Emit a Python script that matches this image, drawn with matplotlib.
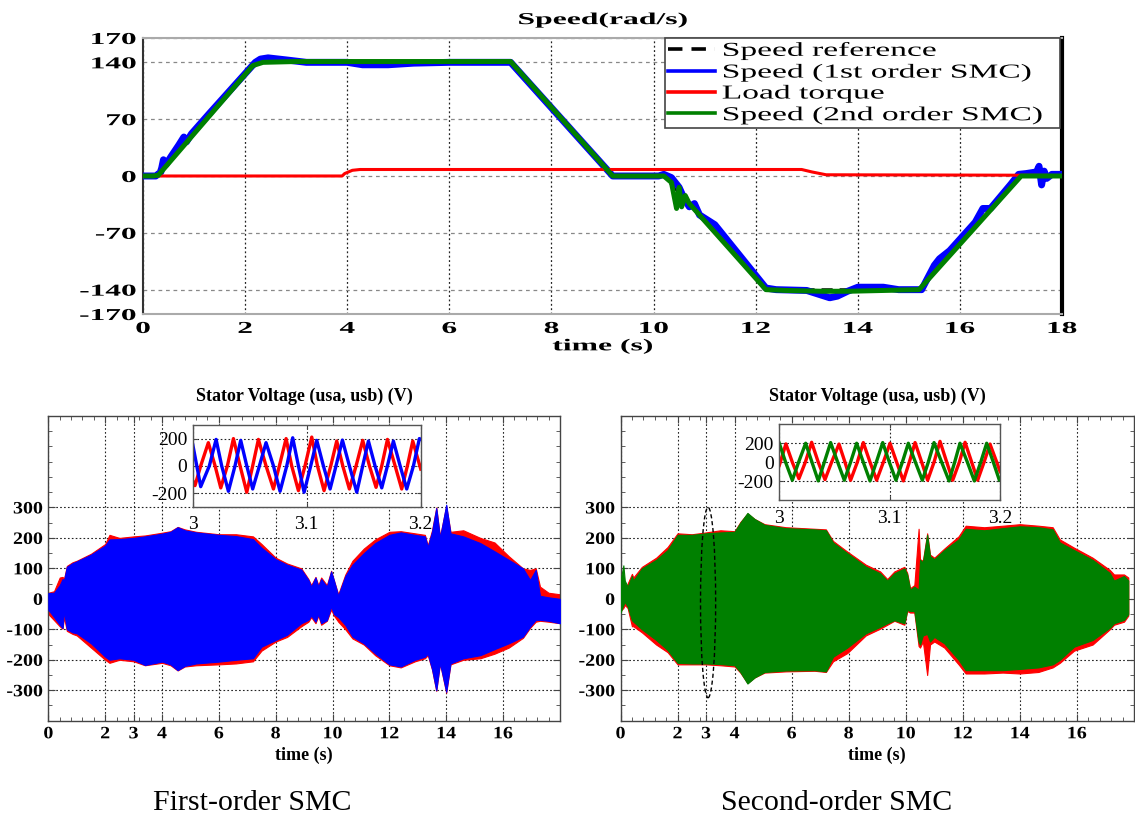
import numpy as np
import matplotlib
matplotlib.use('Agg')
import matplotlib.pyplot as plt
from matplotlib.patheffects import AbstractPathEffect
from matplotlib.transforms import Affine2D
from matplotlib.patches import Ellipse
from matplotlib.ticker import MultipleLocator

plt.rcParams['axes.unicode_minus'] = False
SERIF = ['Liberation Serif', 'DejaVu Serif']

# ---------------- top chart data: speed (rad/s) ----------------
ref_t = [0, 0.2, 2.2, 7.2, 9.2, 10.2, 12.2, 15.2, 17.2, 18]
ref_v = [0, 0, 140, 140, 0, 0, -140, -140, 0, 0]

smc1_t = [0, 0.25, 0.35, 0.4, 0.45, 0.55, 0.7, 0.8, 0.85, 0.95, 1.3, 1.8, 2.2, 2.3, 2.45,
          2.8, 3.2, 4.0, 4.3, 4.8, 5.3, 6.0, 7.2, 9.2, 10.1, 10.2, 10.35, 10.5, 10.6, 10.7,
          10.8, 10.9, 11.0, 11.2, 12.2, 12.4, 13.0, 13.2, 13.45, 13.6, 13.8, 14.0, 14.5,
          14.8, 15.25, 15.5, 15.6, 15.8, 16.3, 16.45, 16.6, 17.0, 17.15, 17.3, 17.5, 17.55,
          17.6, 17.65, 17.7, 17.8, 18]
smc1_v = [0, 0, 5, 20, 14, 24, 38, 48, 42, 52, 77, 112, 140, 144, 145.5,
          143, 140, 140, 137, 137, 139, 140, 140, 0, 0, 2, -2, -14, -28, -38,
          -34, -48, -52, -60, -138, -140, -141, -145, -150, -148, -142, -137, -137,
          -140, -140, -110, -102, -92, -57, -40, -40, -10, 2, 3, 5, 12,
          -11, 6, -3, 2, 2]

torque_t = [0, 3.9, 3.95, 4.1, 4.25, 12.9, 13.1, 13.38, 17.0, 18]
torque_v = [0, 0, 3, 7, 8, 8, 5, 1.5, 1, 0.5]

smc2_t = [0, 0.2, 0.3, 2.15, 2.35, 3.0, 7.2, 9.2, 10.2, 10.35, 10.45, 10.5, 10.55,
          10.62, 10.7, 12.2, 12.6, 13.3, 13.8, 15.2, 17.2, 18]
smc2_v = [0, 0, 1, 136, 140, 141, 141, 0, 0, -8, -40, -14, -38,
          -24, -34, -140, -141, -142, -142, -140, 0, 0]

speed_labels = ['Speed reference', 'Speed (1st order SMC)', 'Load torque',
                'Speed (2nd order SMC)']

# ---------------- bottom-left: 1st order SMC stator voltage envelopes ----------------
tL = [0, 0.2, 0.4, 0.5, 0.55, 0.65, 0.85, 1.0, 1.5, 2.0, 2.15, 2.5, 3.0, 3.4, 4.0, 4.3,
      4.55, 4.8, 5.2, 6.0, 6.6, 7.2, 7.5, 8.0, 8.4, 8.9, 9.15, 9.25, 9.4, 9.5, 9.6, 9.8,
      9.95, 10.05, 10.2, 10.45, 10.7, 11.1, 11.5, 12.0, 12.4, 12.9, 13.25, 13.35, 13.5,
      13.65, 13.78, 14.0, 14.15, 14.6, 15.2, 15.7, 16.2, 16.7, 16.95, 17.15, 17.3, 17.6, 18.0]
blue_up = [19, 20, 45, 65, 60, 105, 117, 123, 145, 175, 195, 196, 200, 205, 214, 220,
           235, 225, 218, 210, 206, 196, 168, 130, 112, 96, 62, 40, 70, 40, 65, 40,
           90, 60, 10, 75, 112, 150, 183, 210, 218, 210, 205, 170, 220,
           298, 200, 309, 215, 205, 183, 156, 128, 100, 62, 95, 10, 5, 0]
blue_lo = [-36, -60, -85, -96, -40, -100, -110, -113, -146, -190, -200, -195, -200, -217, -206, -215,
           -234, -220, -212, -206, -200, -195, -157, -135, -118, -80, -69, -55, -75, -50, -80, -70,
           -25, -50, -60, -86, -124, -146, -179, -215, -222, -200, -190, -180, -230,
           -300, -210, -305, -212, -195, -185, -165, -146, -124, -91, -69, -69, -72, -80]
red_up = [20, 25, 70, 72, 65, 108, 120, 125, 148, 180, 210, 200, 205, 208, 217, 222,
          236, 228, 220, 212, 212, 205, 180, 135, 116, 100, 65, 45, 72, 45, 70, 45,
          92, 60, 15, 80, 125, 165, 195, 220, 222, 215, 210, 175, 225,
          300, 205, 305, 220, 225, 200, 185, 140, 100, 95, 100, 40, 20, 15]
red_lo = [-50, -70, -90, -98, -60, -105, -115, -120, -160, -200, -210, -200, -205, -218, -210, -218,
          -235, -222, -218, -215, -212, -205, -170, -140, -125, -90, -75, -60, -80, -55, -85, -72,
          -35, -55, -75, -100, -130, -150, -185, -218, -225, -205, -195, -185, -232,
          -302, -212, -308, -215, -200, -195, -180, -160, -128, -95, -75, -72, -75, -80]

# ---------------- bottom-right: 2nd order SMC stator voltage envelopes ----------------
tR = [0, 0.1, 0.15, 0.25, 0.4, 0.45, 0.75, 1.25, 1.65, 2.0, 2.5, 3.0, 3.5, 4.0, 4.2, 4.45,
      4.7, 5.05, 5.8, 6.8, 7.2, 7.45, 7.95, 8.6, 9.1, 9.35, 9.6, 9.95, 10.05, 10.15, 10.3,
      10.45, 10.5, 10.6, 10.75, 10.85, 11.0, 11.35, 11.85, 12.1, 12.75, 13.4, 14.0, 14.65,
      15.15, 15.4, 15.9, 16.55, 17.15, 17.3, 17.65, 17.8]
green_up = [60, 110, 60, 40, 75, 60, 100, 128, 160, 210, 210, 215, 218, 220, 250, 282,
            262, 243, 232, 228, 225, 185, 150, 106, 84, 60, 84, 100, 80, 30, 40,
            30, 128, 120, 210, 140, 130, 160, 195, 230, 225, 232, 238, 235,
            228, 185, 160, 128, 85, 60, 75, 60]
green_lo = [-45, -20, -10, -25, -70, -75, -100, -135, -168, -210, -212, -212, -214, -218, -240, -278,
            -258, -240, -235, -234, -238, -190, -160, -113, -92, -80, -70, -80, -36, -40, -40,
            -140, -150, -120, -115, -140, -125, -146, -200, -234, -234, -234, -230, -225,
            -215, -200, -157, -135, -95, -80, -69, -50]
red2_up = [10, 20, 30, 50, 82, 70, 105, 135, 170, 215, 212, 218, 225, 222, 252, 280,
           262, 245, 235, 230, 228, 190, 155, 112, 90, 65, 90, 105, 85, 35, 45,
           230, 130, 125, 215, 145, 135, 165, 205, 240, 235, 240, 245, 240,
           235, 195, 168, 135, 95, 80, 80, 70]
red2_lo = [-40, -30, -20, -30, -90, -90, -110, -150, -175, -215, -215, -215, -218, -222, -242, -276,
           -258, -242, -238, -236, -240, -205, -178, -120, -98, -85, -72, -85, -40, -45, -45,
           -155, -160, -140, -250, -150, -140, -160, -215, -245, -245, -242, -245, -240,
           -225, -210, -170, -150, -100, -85, -75, -55]

# ---------------- insets: zoom 3.0 s - 3.2 s ----------------
insL_red_t = [3.0000, 3.0020, 3.0070, 3.0137, 3.0196, 3.0246, 3.0304, 3.0357, 3.0415, 3.0474,
              3.0526, 3.0576, 3.0643, 3.0708, 3.0760, 3.0819, 3.0868, 3.0927, 3.0985, 3.1044,
              3.1094, 3.1152, 3.1211, 3.1263, 3.1316, 3.1374, 3.1433, 3.1491, 3.1550, 3.1608,
              3.1658, 3.1708, 3.1775, 3.1833, 3.1883, 3.1930, 3.2000]
insL_red_v = [-109, -145, 0, 170, 0, -162, 0, 200, 0, -194,
              0, 194, 0, -170, 0, 200, 0, -182, 0, 211,
              0, -182, 0, 182, 0, -170, 0, 187, 0, -158,
              0, 194, 0, -170, 0, 182, -24]
insL_blue_t = [3.0000, 3.0070, 3.0146, 3.0205, 3.0254, 3.0313, 3.0371, 3.0421, 3.0474, 3.0526,
               3.0585, 3.0643, 3.0708, 3.0766, 3.0825, 3.0877, 3.0927, 3.0977, 3.1035, 3.1088,
               3.1146, 3.1205, 3.1257, 3.1313, 3.1374, 3.1439, 3.1491, 3.1541, 3.1599, 3.1658,
               3.1708, 3.1760, 3.1819, 3.1877, 3.1936, 3.1988, 3.2000]
insL_blue_v = [158, -153, 0, 194, 0, -187, 0, 187, 0, -170,
               0, 170, 0, -187, 0, 206, 0, -194, 0, 187,
               0, -170, 0, 189, 0, -194, 0, 182, 0, -162,
               0, 182, 0, -170, 0, 200, 195]

insR_red_t = [3.0000, 3.0060, 3.0118, 3.0178, 3.0236, 3.0293, 3.0353, 3.0414, 3.0474, 3.0541,
              3.0595, 3.0646, 3.0707, 3.0761, 3.0822, 3.0882, 3.0943, 3.1003, 3.1063, 3.1124,
              3.1178, 3.1230, 3.1290, 3.1344, 3.1402, 3.1456, 3.1517, 3.1571, 3.1631, 3.1683,
              3.1743, 3.1797, 3.1855, 3.1909, 3.1970, 3.2000]
insR_red_v = [-35, 193, 0, -174, 0, 210, 0, -184, 0, 191,
              0, -191, 0, 207, 0, -191, 0, 200, 0, -198,
              0, 207, 0, -191, 0, 220, 0, -191, 0, 210,
              0, -191, 0, 191, 0, -100]
insR_green_t = [3.0000, 3.0057, 3.0118, 3.0175, 3.0239, 3.0296, 3.0353, 3.0408, 3.0465, 3.0529,
                3.0589, 3.0646, 3.0701, 3.0761, 3.0822, 3.0879, 3.0937, 3.0997, 3.1057, 3.1115,
                3.1169, 3.1233, 3.1296, 3.1350, 3.1402, 3.1471, 3.1538, 3.1589, 3.1637, 3.1704,
                3.1767, 3.1825, 3.1879, 3.1939, 3.1994, 3.2000]
insR_green_v = [200, 0, -191, 0, 200, 0, -198, 0, 207, 0,
                -191, 0, 200, 0, -198, 0, 207, 0, -191, 0,
                200, 0, -191, 0, 207, 0, -198, 0, 200, 0,
                -198, 0, 200, 0, -191, -185]

main_xticks = [0, 2, 3, 4, 6, 8, 10, 12, 14, 16]
main_yticks = [-300, -200, -100, 0, 100, 200, 300]
inset_xticks = [3.0, 3.1, 3.2]
inset_xlabels = ['3', '3.1', '3.2']
inset_yticks = [-200, 0, 200]
panel_title = 'Stator Voltage (usa, usb) (V)'
captions = ['First-order SMC', 'Second-order SMC']

RED = '#ff0000'
BLUE = '#0000ff'
GREEN = '#008000'


class HStretch(AbstractPathEffect):
    """Horizontally widen glyphs (the reference uses a wide, stretched font)."""
    def __init__(self, sx, anchor='center'):
        super().__init__((0, 0))
        self.sx = sx
        self.anchor = anchor

    def draw_path(self, renderer, gc, tpath, affine, rgbFace=None):
        ext = tpath.get_extents()
        if self.anchor == 'left':
            cx = 0.0
        elif self.anchor == 'right':
            cx = ext.x1
        else:
            cx = 0.5 * (ext.x0 + ext.x1)
        pre = Affine2D().translate(-cx, 0).scale(self.sx, 1.0).translate(cx, 0)
        renderer.draw_path(gc, tpath, pre + affine, rgbFace)


fig = plt.figure(figsize=(11.35, 8.22), dpi=100)

# ================= top chart =================
ax = fig.add_axes([0.1260, 0.6180, 0.8097, 0.3358])
ax.plot(ref_t, ref_v, color='black', ls=(0, (4, 2.5)), lw=2.0, label=speed_labels[0], zorder=3)
ax.plot(smc1_t, smc1_v, color=BLUE, lw=5.0, label=speed_labels[1], zorder=4)
ax.plot(torque_t, torque_v, color=RED, lw=2.2, label=speed_labels[2], zorder=5)
ax.plot(smc2_t, smc2_v, color=GREEN, lw=3.6, label=speed_labels[3], zorder=6)
ax.set_xlim(0, 18)
ax.set_ylim(-170, 170)
ax.set_xticks(list(range(0, 19, 2)))
ax.set_yticks([-170, -140, -70, 0, 70, 140, 170])
ax.grid(axis='y', ls=(0, (3, 3)), color='#888888', lw=0.9)
ax.grid(axis='x', ls=(0, (1.5, 2)), color='#222222', lw=0.9)
ax.tick_params(length=0, labelsize=12, pad=5)
for lbl in ax.get_xticklabels():
    lbl.set_fontfamily(SERIF)
    lbl.set_fontweight('bold')
    lbl.set_path_effects([HStretch(1.88, 'center')])
for lbl in ax.get_yticklabels():
    lbl.set_fontfamily(SERIF)
    lbl.set_fontweight('bold')
    lbl.set_path_effects([HStretch(1.88, 'right')])
for s in ['top', 'bottom']:
    ax.spines[s].set_color('#aaaaaa')
    ax.spines[s].set_linewidth(1.5)
ax.spines['left'].set_color('#333333')
ax.spines['left'].set_linewidth(1.5)
ax.spines['right'].set_color('black')
ax.spines['right'].set_linewidth(3)
ax.set_title('Speed(rad/s)', fontfamily=SERIF, fontweight='bold', fontsize=12, pad=10,
             path_effects=[HStretch(1.9, 'center')])
ax.set_xlabel('time (s)', fontfamily=SERIF, fontweight='bold', fontsize=12, labelpad=1,
              path_effects=[HStretch(1.9, 'center')])
leg = ax.legend(loc='upper left', bbox_to_anchor=(0.5675, 0.0, 0.4305, 1.0), mode='expand',
                prop={'family': SERIF, 'size': 14.2}, frameon=True, fancybox=False,
                edgecolor='#444444', framealpha=1, borderaxespad=0, labelspacing=0.1,
                handlelength=2.4, handletextpad=0.35, borderpad=0.15)
leg.get_frame().set_linewidth(1.2)
for h in leg.get_lines():
    h.set_linewidth(2.6)
for t in leg.get_texts():
    t.set_path_effects([HStretch(1.7, 'left')])
leg.set_zorder(10)


def style_main(a):
    a.set_xlim(0, 18)
    a.set_ylim(-400, 600)
    a.set_xticks(main_xticks)
    a.set_yticks(main_yticks)
    a.xaxis.set_minor_locator(MultipleLocator(0.4))
    a.yaxis.set_minor_locator(MultipleLocator(50))
    a.grid(which='major', ls=(0, (1.5, 2)), color='#222222', lw=0.8)
    a.tick_params(which='both', direction='in', top=True, right=True, color='#444444')
    a.tick_params(which='major', length=5, labelsize=12.5, pad=4)
    a.tick_params(which='minor', length=3)
    for lbl in a.get_xticklabels() + a.get_yticklabels():
        lbl.set_fontfamily(SERIF)
        lbl.set_fontweight('bold')
    for lbl in a.get_xticklabels():
        lbl.set_path_effects([HStretch(1.15, 'center')])
    for lbl in a.get_yticklabels():
        lbl.set_path_effects([HStretch(1.15, 'right')])
    for s in a.spines.values():
        s.set_color('#444444')
        s.set_linewidth(1.0)
    a.set_title(panel_title, fontfamily=SERIF, fontweight='bold', fontsize=13, pad=11)
    a.set_xlabel('time (s)', fontfamily=SERIF, fontweight='bold', fontsize=13, labelpad=3)


def style_inset(a, ylim):
    a.set_xlim(3.0, 3.2)
    a.set_ylim(*ylim)
    a.set_xticks(inset_xticks)
    a.set_xticklabels(inset_xlabels)
    a.set_yticks(inset_yticks)
    a.grid(ls=(0, (1.5, 2)), color='#222222', lw=0.8)
    a.tick_params(direction='in', length=3, labelsize=14, pad=4, color='#444444',
                  top=True, right=True)
    a.tick_params(axis='x', pad=7)
    for lbl in a.get_xticklabels() + a.get_yticklabels():
        lbl.set_fontfamily(SERIF)
    for s in a.spines.values():
        s.set_color('#555555')
        s.set_linewidth(1.0)


# ================= bottom-left =================
axL = fig.add_axes([0.0426, 0.1232, 0.4507, 0.3707])
axL.fill_between(tL, red_lo, red_up, facecolor=RED, edgecolor=RED, lw=0.8, zorder=2)
axL.fill_between(tL, blue_lo, blue_up, facecolor=BLUE, edgecolor=BLUE, lw=0.8, zorder=3)
style_main(axL)

insL = fig.add_axes([0.1698, 0.3836, 0.2009, 0.0994])
insL.plot(insL_red_t, insL_red_v, color=RED, lw=2.4)
insL.plot(insL_blue_t, insL_blue_v, color=BLUE, lw=2.4)
style_inset(insL, (-300, 300))

# ================= bottom-right =================
axR = fig.add_axes([0.5467, 0.1232, 0.4524, 0.3707])
axR.fill_between(tR, red2_lo, red2_up, facecolor=RED, edgecolor=RED, lw=0.8, zorder=2)
axR.fill_between(tR, green_lo, green_up, facecolor=GREEN, edgecolor=GREEN, lw=0.8, zorder=3)
style_main(axR)
axR.add_patch(Ellipse((3.07, -12), width=0.53, height=625, fill=False, ls=(0, (3, 2)),
                      lw=1.0, edgecolor='black', zorder=5))

insR = fig.add_axes([0.6866, 0.3917, 0.1945, 0.0921])
insR.plot(insR_red_t, insR_red_v, color=RED, lw=2.4)
insR.plot(insR_green_t, insR_green_v, color=GREEN, lw=2.4)
style_inset(insR, (-400, 400))

# captions
fig.text(252 / 1135, 1 - 803 / 822, captions[0], ha='center', va='center',
         family=SERIF, fontsize=21.5)
fig.text(837 / 1135, 1 - 803 / 822, captions[1], ha='center', va='center',
         family=SERIF, fontsize=21.5)

fig.savefig('out.png', dpi=100)
